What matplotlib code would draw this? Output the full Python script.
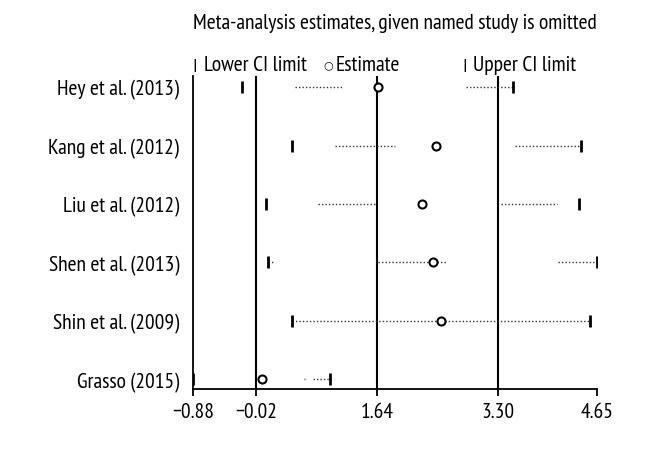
import matplotlib
matplotlib.use("Agg")
import matplotlib.pyplot as plt

plt.rcParams['font.family'] = ['PT Sans Narrow', 'DejaVu Sans']

studies = ["Hey et al. (2013)", "Kang et al. (2012)", "Liu et al. (2012)",
           "Shen et al. (2013)", "Shin et al. (2009)", "Grasso (2015)"]
estimate = [1.65, 2.45, 2.25, 2.41, 2.51, 0.06]
lower = [-0.21, 0.47, 0.12, 0.15, 0.48, -0.88]
upper = [3.50, 4.43, 4.40, 4.65, 4.55, 1.00]

# visible dotted stretches in each row (start, end)
dotted = [
    [(0.52, 1.17), (2.86, 3.50)],
    [(1.06, 1.89), (3.53, 4.43)],
    [(0.83, 1.64), (3.34, 4.10)],
    [(0.15, 0.23), (1.65, 2.60), (4.12, 4.65)],
    [(0.48, 4.55)],
    [(0.64, 0.66), (0.76, 1.00)],
]

overall = [-0.02, 1.64, 3.30]
xticks = [-0.88, -0.02, 1.64, 3.30, 4.65]
tick_labels = ["\u22120.88", "\u22120.02", "1.64", "3.30", "4.65"]

fig = plt.figure(figsize=(6.6, 4.6), dpi=100)
ax = fig.add_axes([0.2924, 0.152, 0.6121, 0.6806])

rows = list(range(1, len(studies) + 1))

for x in overall:
    ax.axvline(x, color='black', lw=1.5)

for r, segs in zip(rows, dotted):
    for a, b in segs:
        ax.plot([a, b], [r, r], color='#333333', lw=1.0, ls=(0, (1, 1.5)))

ax.plot(lower, rows, ls='none', marker='|', ms=8, mew=2, color='black')
ax.plot(upper, rows, ls='none', marker='|', ms=8, mew=2, color='black')
ax.plot(estimate, rows, ls='none', marker='o', ms=5.8, mew=1.5,
        mfc='white', mec='black')

ax.set_xlim(-0.88, 4.65)
ax.set_ylim(6.17, 0.81)
ax.set_xticks(xticks)
ax.set_xticklabels(tick_labels, fontsize=15.5)
ax.set_yticks(rows)
ax.set_yticklabels(studies, fontsize=15.5)
ax.tick_params(axis='y', length=0, pad=10)
ax.tick_params(axis='x', length=5, width=1.3, pad=4)
for s in ['top', 'right']:
    ax.spines[s].set_visible(False)
for s in ['left', 'bottom']:
    ax.spines[s].set_linewidth(1.3)

fig.text(0.598, 0.949, "Meta-analysis estimates, given named study is omitted",
         ha='center', va='center', fontsize=15.5)

# legend row
ly = 0.858
fig.text(0.2955, ly, "|", ha='center', va='center', fontsize=9,
         family=['DejaVu Sans'], fontweight='bold')
fig.text(0.309, ly, "Lower CI limit", ha='left', va='center', fontsize=15.5)
fig.text(0.497, ly, "\u25cb", ha='center', va='center', fontsize=8,
         family=['DejaVu Sans'], fontweight='bold')
fig.text(0.508, ly, "Estimate", ha='left', va='center', fontsize=15.5)
fig.text(0.7045, ly, "|", ha='center', va='center', fontsize=9,
         family=['DejaVu Sans'], fontweight='bold')
fig.text(0.716, ly, "Upper CI limit", ha='left', va='center', fontsize=15.5)

fig.savefig("out.png", dpi=100)
